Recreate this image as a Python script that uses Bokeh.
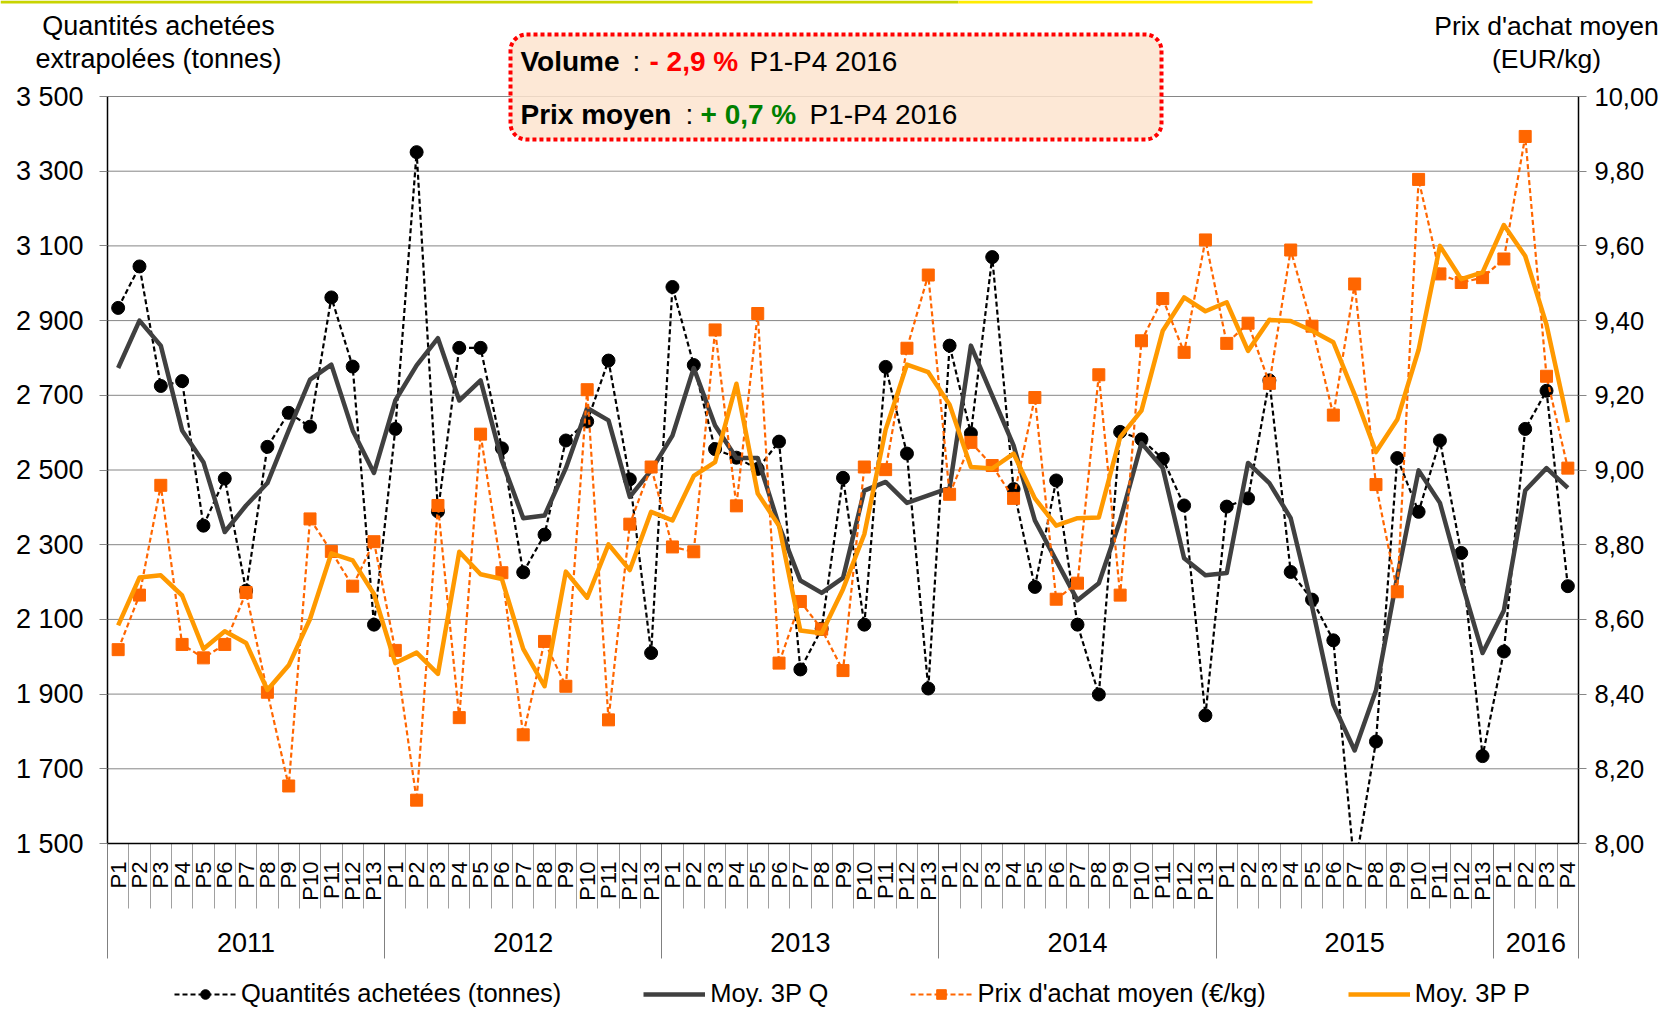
import math
from bokeh.plotting import figure
from bokeh.models import (Range1d, LinearAxis, FixedTicker, CustomJSTickFormatter,
                          Label, BoxAnnotation, Legend, LegendItem)
from bokeh.embed import file_html
from bokeh.resources import INLINE

# ---------------- data ----------------
years = ["2011", "2012", "2013", "2014", "2015", "2016"]
periods_per_year = [13, 13, 13, 13, 13, 4]
period_labels = [f"P{k}" for n in periods_per_year for k in range(1, n + 1)]

quantites = [2934, 3045, 2725, 2738, 2351, 2477, 2177, 2562, 2653, 2616, 2962, 2777, 2086,
             2610, 3351, 2389, 2827, 2827, 2558, 2226, 2327, 2579, 2630, 2793, 2475, 2010,
             2990, 2781, 2556, 2533, 2503, 2576, 1966, 2075, 2479, 2086, 2776, 2544, 1915,
             2833, 2598, 3070, 2449, 2187, 2472, 2086, 1899, 2602, 2582, 2530, 2405, 1843,
             2402, 2424, 2740, 2227, 2153, 2044, 1430, 1773, 2532, 2388, 2579, 2278, 1734,
             2014, 2610, 2712, 2189]

moy_q = [2773, 2900, 2833, 2606, 2521, 2334, 2405, 2465, 2606, 2742, 2782, 2606, 2492,
         2686, 2780, 2853, 2686, 2740, 2525, 2371, 2378, 2505, 2666, 2633, 2428, 2499,
         2592, 2773, 2619, 2532, 2532, 2351, 2204, 2171, 2211, 2445, 2468, 2412, 2432,
         2452, 2833, 2699, 2566, 2365, 2258, 2151, 2197, 2365, 2572, 2505, 2264, 2218,
         2224, 2519, 2465, 2371, 2135, 1872, 1749, 1910, 2215, 2499, 2412, 2204, 2010,
         2124, 2445, 2505, 2452]

prix = [8.519, 8.665, 8.959, 8.533, 8.497, 8.533, 8.672, 8.405, 8.154, 8.869, 8.782, 8.689, 8.808,
        8.517, 8.116, 8.905, 8.337, 9.096, 8.725, 8.291, 8.541, 8.421, 9.215, 8.331, 8.855, 9.008,
        8.794, 8.781, 9.375, 8.904, 9.419, 8.483, 8.648, 8.574, 8.463, 9.008, 9.001, 9.326, 9.522,
        8.935, 9.074, 9.012, 8.924, 9.194, 8.654, 8.697, 9.255, 8.665, 9.346, 9.459, 9.315, 9.616,
        9.339, 9.393, 9.232, 9.589, 9.385, 9.147, 9.498, 8.961, 8.674, 9.778, 9.525, 9.502, 9.515,
        9.565, 9.893, 9.251, 9.005]

moy_p = [8.584, 8.712, 8.718, 8.664, 8.521, 8.568, 8.537, 8.411, 8.477, 8.601, 8.777, 8.758, 8.668,
         8.483, 8.511, 8.454, 8.781, 8.721, 8.708, 8.521, 8.421, 8.728, 8.658, 8.801, 8.732, 8.888,
         8.865, 8.984, 9.021, 9.231, 8.937, 8.851, 8.570, 8.563, 8.681, 8.828, 9.108, 9.282, 9.262,
         9.175, 9.008, 9.004, 9.044, 8.924, 8.851, 8.871, 8.873, 9.088, 9.159, 9.373, 9.462, 9.425,
         9.449, 9.319, 9.402, 9.399, 9.373, 9.342, 9.202, 9.048, 9.135, 9.322, 9.600, 9.511, 9.529,
         9.656, 9.573, 9.389, 9.128]

left_ticks = [1500, 1700, 1900, 2100, 2300, 2500, 2700, 2900, 3100, 3300, 3500]
right_ticks = [8.0, 8.2, 8.4, 8.6, 8.8, 9.0, 9.2, 9.4, 9.6, 9.8, 10.0]

# ---------------- geometry (canvas pixels) ----------------
FONT = "Liberation Sans"
W, H = 1659, 1008
PL, PR, PT, PB = 107, 1578, 96, 843     # plot area
N = len(period_labels)
Q0, Q1 = 1500, 3500
P0, P1 = 8.0, 10.0

ux = N / (PR - PL)                 # data units per px (x)
uq = (Q1 - Q0) / (PB - PT)         # per px (left y)
up = (P1 - P0) / (PB - PT)         # per px (right y)
x_range = Range1d(-PL * ux, N + (W - PR) * ux)
y_range = Range1d(Q0 - (H - PB) * uq, Q1 + PT * uq)
p_range = Range1d(P0 - (H - PB) * up, P1 + PT * up)


def dx(cx):
    return (cx - PL) * ux


def dy(cy):
    return Q1 - (cy - PT) * uq


p = figure(width=W, height=H, output_backend="svg", toolbar_location=None,
           x_range=x_range, y_range=y_range, x_axis_type=None, y_axis_type=None,
           min_border=0, min_border_left=0, min_border_right=0,
           min_border_top=0, min_border_bottom=0)
p.extra_y_ranges = {"prix": p_range}
p.outline_line_color = None
p.background_fill_color = "white"
p.border_fill_color = "white"

# decorative top rule
p.add_layout(BoxAnnotation(left=dx(0), right=dx(958), top=dy(0), bottom=dy(3),
                           fill_color="#c8d400", fill_alpha=1, line_color=None))
p.add_layout(BoxAnnotation(left=dx(958), right=dx(1312), top=dy(0), bottom=dy(3),
                           fill_color="#ffec00", fill_alpha=1, line_color=None))

# horizontal gridlines
p.segment(x0=0, x1=N, y0=left_ticks, y1=left_ticks, line_color="#868686", line_width=1)

# ---------------- series ----------------
centers = [i + 0.5 for i in range(N)]
q_line = p.line(centers, quantites, line_color="#000000", line_width=2.2, line_dash="5 3")
q_pts = p.scatter(centers, quantites, marker="circle", size=13,
                  fill_color="#000000", line_color="#000000")
mq_line = p.line(centers, moy_q, line_color="#404040", line_width=4.5, line_join="round")
p_line = p.line(centers, prix, y_range_name="prix", line_color="#ff6600",
                line_width=2.2, line_dash="5 3")
p_pts = p.scatter(centers, prix, y_range_name="prix", marker="square", size=12,
                  fill_color="#ff6600", line_color="#ff6600")
mp_line = p.line(centers, moy_p, y_range_name="prix", line_color="#ff9900",
                 line_width=4.5, line_join="round")

# clip everything that falls below the plot area (white mask under the axes)
p.quad(left=x_range.start, right=x_range.end, top=Q0, bottom=y_range.start,
       fill_color="white", line_color=None)

# ---------------- axes ----------------
yl = LinearAxis(fixed_location=0, bounds=(Q0, Q1), ticker=FixedTicker(ticks=left_ticks),
                formatter=CustomJSTickFormatter(code="""
                    const s = Math.round(tick).toString();
                    return s.length > 3 ? s.slice(0, s.length - 3) + ' ' + s.slice(s.length - 3) : s;"""),
                major_label_text_font=FONT, major_label_text_font_size="27px",
                major_label_text_color="#000000", major_label_standoff=16,
                major_tick_out=8, major_tick_in=0, minor_tick_out=0, minor_tick_in=0,
                major_tick_line_color="#868686", axis_line_color="#000000", axis_line_width=1.5)
p.add_layout(yl, "left")

yr = LinearAxis(y_range_name="prix", fixed_location=N, bounds=(P0, P1),
                ticker=FixedTicker(ticks=right_ticks),
                formatter=CustomJSTickFormatter(code="return tick.toFixed(2).replace('.', ',');"),
                major_label_text_font=FONT, major_label_text_font_size="25.5px",
                major_label_text_color="#000000", major_label_standoff=8,
                major_tick_out=8, major_tick_in=0, minor_tick_out=0, minor_tick_in=0,
                major_tick_line_color="#868686", axis_line_color="#000000", axis_line_width=1.5)
p.add_layout(yr, "right")

bounds = [0]
for n in periods_per_year:
    bounds.append(bounds[-1] + n)
year_centers = [(bounds[k] + bounds[k + 1]) / 2 for k in range(len(years))]

# separators between periods
x_sep = LinearAxis(fixed_location=Q0, bounds=(0, N),
                   ticker=FixedTicker(ticks=[], minor_ticks=list(range(N + 1))),
                   major_label_text_font_size="0px", major_tick_out=0, major_tick_in=0,
                   minor_tick_in=0, minor_tick_out=65,
                   minor_tick_line_color="#a0a0a0", minor_tick_line_width=1,
                   axis_line_color=None)
p.add_layout(x_sep, "below")

# separators between years
y_sep = LinearAxis(fixed_location=Q0, bounds=(0, N),
                   ticker=FixedTicker(ticks=[], minor_ticks=bounds),
                   major_label_text_font_size="0px", major_tick_out=0, major_tick_in=0,
                   minor_tick_in=0, minor_tick_out=115,
                   minor_tick_line_color="#808080", minor_tick_line_width=1,
                   axis_line_color=None)
p.add_layout(y_sep, "below")

# period labels (and the bottom axis line)
xa = LinearAxis(fixed_location=Q0, bounds=(0, N), ticker=FixedTicker(ticks=centers),
                formatter=CustomJSTickFormatter(args=dict(labels=period_labels),
                                                code="return labels[Math.floor(tick)];"),
                major_label_orientation=math.pi / 2,
                major_label_text_font=FONT, major_label_text_font_size="22px",
                major_label_text_color="#000000", major_label_standoff=18,
                major_tick_out=0, major_tick_in=0, minor_tick_in=0, minor_tick_out=0,
                axis_line_color="#000000", axis_line_width=1.5)
p.add_layout(xa, "below")

# year labels
ya = LinearAxis(fixed_location=Q0, bounds=(0, N), ticker=FixedTicker(ticks=year_centers),
                formatter=CustomJSTickFormatter(args=dict(labels=years, centers=year_centers),
                                                code="return labels[centers.indexOf(tick)];"),
                major_label_text_font=FONT, major_label_text_font_size="27px",
                major_label_text_color="#000000", major_label_standoff=89,
                major_tick_out=0, major_tick_in=0, minor_tick_in=0, minor_tick_out=0,
                axis_line_color=None)
p.add_layout(ya, "below")

# ---------------- titles ----------------
def lab(cx, cy, text, size="27px", align="center", style="normal", color="#000000"):
    p.add_layout(Label(x=dx(cx), y=dy(cy), text=text, text_font=FONT, text_font_size=size,
                       text_align=align, text_baseline="alphabetic",
                       text_font_style=style, text_color=color))

lab(158, 25.5, "Quantités achetées")
lab(158, 58, "extrapolées (tonnes)")
lab(1546, 25.5, "Prix d'achat moyen", size="26.5px")
lab(1546, 58, "(EUR/kg)", size="26.5px")

# ---------------- annotation box ----------------
p.add_layout(BoxAnnotation(left=dx(510), right=dx(1161), top=dy(34), bottom=dy(139),
                           fill_color="#fde4cf", fill_alpha=0.85,
                           line_color="#ff0000", line_alpha=1, line_width=4, line_dash="4 3",
                           border_radius=16))
B1, B2 = 60.5, 113.5
lab(520, B1, "Volume", size="28px", align="left", style="bold")
lab(632, B1, ":", size="28px", align="left")
lab(649, B1, "- 2,9 %", size="28px", align="left", style="bold", color="#ff0000")
lab(749, B1, "P1-P4 2016", size="28px", align="left")
lab(520, B2, "Prix moyen", size="28px", align="left", style="bold")
lab(685, B2, ":", size="28px", align="left")
lab(700, B2, "+ 0,7 %", size="28px", align="left", style="bold", color="#008000")
lab(809, B2, "P1-P4 2016", size="28px", align="left")

# ---------------- legend ----------------
legend = Legend(items=[
    LegendItem(label="Quantités achetées (tonnes)", renderers=[q_line, q_pts]),
    LegendItem(label="Moy. 3P Q", renderers=[mq_line]),
    LegendItem(label="Prix d'achat moyen (€/kg)", renderers=[p_line, p_pts]),
    LegendItem(label="Moy. 3P P", renderers=[mp_line]),
], orientation="horizontal", location=(174, 0),
    label_text_font=FONT, label_text_font_size="25.5px", label_text_color="#000000",
    glyph_width=62, glyph_height=24, label_standoff=5, spacing=82,
    padding=0, margin=0, border_line_color=None, background_fill_alpha=0)
p.add_layout(legend, "center")

open("out.html", "w").write(file_html(p, INLINE))
